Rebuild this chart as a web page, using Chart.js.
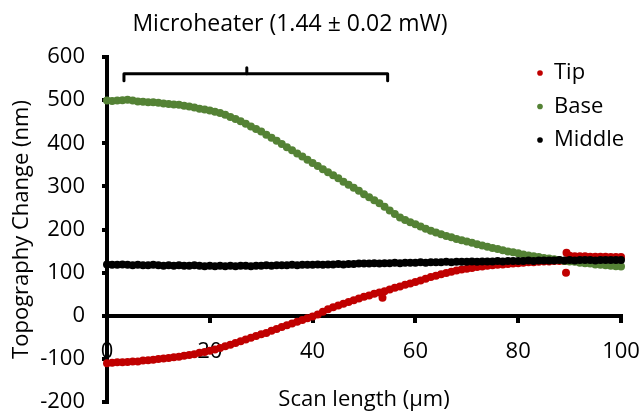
<!DOCTYPE html>
<html><head><meta charset="utf-8">
<script src="https://cdn.jsdelivr.net/npm/chart.js@4.4.1/dist/chart.umd.min.js"></script>
<style>html,body{margin:0;padding:0;background:#fff}#wrap{width:640px;height:414px}</style>
</head><body><div id="wrap"><canvas id="c" width="640" height="414"></canvas></div>
<script>
const chartTitle = 'Microheater (1.44 ± 0.02 mW)';
const xTitle = 'Scan length (μm)';
const yTitle = 'Topography Change (nm)';
const seriesNames = ['Tip', 'Base', 'Middle'];
const seriesColors = ['#C00000', '#548235', '#000000'];

const scanX = [0,1,2,3,4,5,6,7,8,9,10,11,12,13,14,15,16,17,18,19,20,21,22,23,24,25,26,27,28,29,30,31,32,33,34,35,36,37,38,39,40,41,42,43,44,45,46,47,48,49,50,51,52,53,54,55,56,57,58,59,60,61,62,63,64,65,66,67,68,69,70,71,72,73,74,75,76,77,78,79,80,81,82,83,84,85,86,87,88,89,90,91,92,93,94,95,96,97,98,99,100];

const tipY = [-110,-109,-108,-108,-107,-106,-106,-104,-103,-102,-100,-99,-98,-96,-95,-93,-91,-89,-86,-84,-81,-78,-75,-71,-67,-63,-59,-55,-51,-47,-43,-40,-35,-31,-26,-22,-18,-14,-10,-6,-2,3,9,15,20,24,28,32,36,40,44,47,51,54,57,61,65,68,72,75,78,82,86,90,93,96,99,102,105,107,109,111,113,114,116,117,118,119,120,121,122,123,124,124,125,126,126,127,127,127,139,138,138,138,137,137,137,137,136,136,136];
const tipOutlierX = [53.6, 89.3, 89.4];
const tipOutlierY = [42, 100, 146];

const baseY = [499,498,499,500,501,499,497,496,495,495,494,492,491,490,489,487,485,483,480,478,476,473,470,466,461,456,451,445,439,433,427,420,413,406,398,391,384,376,369,362,354,347,340,333,326,319,311,304,297,290,282,275,268,261,253,244,236,228,222,217,212,207,202,197,193,189,185,182,178,175,172,169,166,163,160,157,155,152,149,147,145,142,140,138,136,134,133,131,129,127,126,125,123,122,121,119,118,117,116,115,114];

const middleY = [119,118,118,119,118,117,118,117,117,118,117,116,117,116,117,116,116,117,116,115,116,115,116,115,116,115,116,116,115,116,116,117,116,117,117,117,118,117,118,118,118,119,118,119,119,120,119,120,120,121,121,121,122,121,122,122,123,122,123,123,123,124,123,124,124,124,125,124,125,125,125,126,125,126,126,126,127,126,127,127,127,127,128,127,128,128,128,128,129,128,129,128,129,129,129,128,129,129,129,129,129];

const bracketX = [3.3, 3.3, 54.6, 54.6];
const bracketY = [545, 561, 561, 545];
const bracketMidX = [27.2, 27.2];
const bracketMidY = [561, 575];

const xMin = 0, xMax = 100, xStep = 20;
const yMin = -200, yMax = 600, yStep = 100;

function pts(xs, ys) { return xs.map((x, i) => ({x: x, y: ys[i]})); }

const tipData = pts(scanX, tipY).concat(pts(tipOutlierX, tipOutlierY));

Chart.defaults.font.family = "'Open Sans', sans-serif";
Chart.defaults.font.size = 22;
Chart.defaults.color = '#000';

const placeBoxes = {
  id: 'placeBoxes',
  afterLayout(chart) {
    const lg = chart.legend;
    if (lg) { const w = lg.width, h = lg.height; lg.left = 525.5; lg.top = 50.5; lg.right = lg.left + w; lg.bottom = lg.top + h; }
    const t = chart.titleBlock;
    if (t) { t.left = 0; t.right = 580; t.width = 580; }
  }
};

function scatterSet(label, data, color, order) {
  return { label, data, order, backgroundColor: color, borderColor: color, pointRadius: 4, pointBorderWidth: 0, pointHoverRadius: 4, showLine: false, clip: false, pointStyle: 'circle' };
}
function lineSet(xs, ys) {
  return { label: '', data: pts(xs, ys), order: 0, showLine: true, borderColor: '#000', backgroundColor: '#000', borderWidth: 3, pointRadius: 0, borderJoinStyle: 'round', borderCapStyle: 'round', clip: false };
}

new Chart(document.getElementById('c'), {
  type: 'scatter',
  data: {
    datasets: [
      scatterSet(seriesNames[0], tipData, seriesColors[0], 3),
      scatterSet(seriesNames[1], pts(scanX, baseY), seriesColors[1], 2),
      scatterSet(seriesNames[2], pts(scanX, middleY), seriesColors[2], 1),
      lineSet(bracketX, bracketY),
      lineSet(bracketMidX, bracketMidY)
    ]
  },
  options: {
    responsive: false,
    animation: false,
    devicePixelRatio: 1,
    layout: { padding: { left: 0, right: 1, top: 0, bottom: 0 } },
    plugins: {
      title: { display: true, text: chartTitle, font: { size: 23, weight: 'normal' }, color: '#000', padding: { top: 11, bottom: 18.4 } },
      legend: {
        position: 'chartArea', align: 'start',
        labels: {
          usePointStyle: true, boxWidth: 6, boxHeight: 4, padding: 11.5,
          font: { size: 22 }, color: '#000',
          filter: (item) => item.datasetIndex < 3,
          sort: (a, b) => a.datasetIndex - b.datasetIndex
        }
      },
      tooltip: { enabled: false }
    },
    scales: {
      x: {
        type: 'linear', min: xMin, max: xMax,
        position: { y: 0 },
        afterFit: (s) => { s.paddingRight = 19; s.paddingLeft = 7; },
        ticks: { stepSize: xStep, padding: 19, font: { size: 22, lineHeight: 1.1 }, color: '#000', maxRotation: 0 },
        grid: { drawOnChartArea: false, drawTicks: true, tickLength: 5, color: '#000', lineWidth: 4 },
        border: { display: true, color: '#000', width: 4 },
        title: { display: true, text: xTitle, font: { size: 22 }, color: '#000', padding: { top: 3.6, bottom: 0 } }
      },
      y: {
        type: 'linear', min: yMin, max: yMax,
        position: 'left',
        afterFit: (s) => { s.width = 107; s.paddingTop = 12; s.paddingBottom = 12; },
        ticks: { stepSize: yStep, padding: 17, font: { size: 22, lineHeight: 1.1 }, color: '#000' },
        grid: { drawOnChartArea: false, drawTicks: true, tickLength: 5, color: '#000', lineWidth: 4 },
        border: { display: true, color: '#000', width: 4 },
        title: { display: true, text: yTitle, font: { size: 22 }, color: '#000', padding: { top: 9, bottom: 0 } }
      }
    }
  },
  plugins: [placeBoxes]
});
</script></body></html>
